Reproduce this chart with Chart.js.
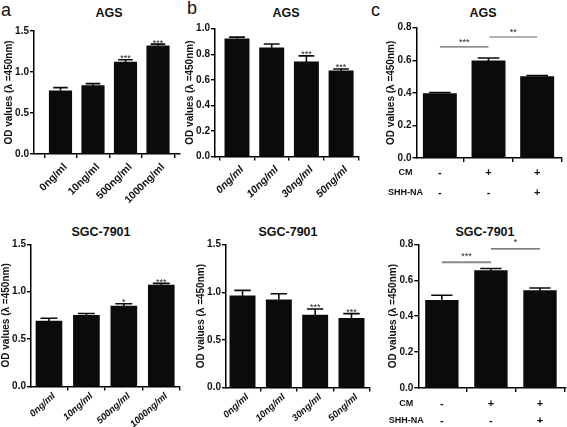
<!DOCTYPE html>
<html><head><meta charset="utf-8">
<script src="https://cdn.jsdelivr.net/npm/chart.js@4"></script>
<style>
html,body{margin:0;padding:0;background:#fff;}
body{width:567px;height:427px;position:relative;overflow:hidden;}
canvas{position:absolute;}
.lbl{position:absolute;transform:translate(-50%,-50%);white-space:nowrap;color:#111;
 font-family:"Liberation Sans Narrow","Arial Narrow",Arial,"Liberation Sans",sans-serif;font-weight:bold;}
.let{position:absolute;font-family:Arial,"Liberation Sans",sans-serif;font-size:18px;color:#111;line-height:1;}
</style></head><body>
<div class="let" style="left:1px;top:1px">a</div>
<div class="let" style="left:187px;top:-1px">b</div>
<div class="let" style="left:371px;top:1px">c</div>
<div class="lbl" style="left:109px;top:13px;font-size:12.5px">AGS</div>
<div class="lbl" style="left:286px;top:13px;font-size:12.5px">AGS</div>
<div class="lbl" style="left:483px;top:13px;font-size:12.5px">AGS</div>
<div class="lbl" style="left:101px;top:232px;font-size:12.5px">SGC-7901</div>
<div class="lbl" style="left:288px;top:232px;font-size:12.5px">SGC-7901</div>
<div class="lbl" style="left:485px;top:232px;font-size:12.5px">SGC-7901</div>
<canvas id="p1"></canvas><canvas id="p2"></canvas><canvas id="p3"></canvas>
<canvas id="p4"></canvas><canvas id="p5"></canvas><canvas id="p6"></canvas>
<script>
// ---------- data ----------
const yTitle = 'OD values (λ =450nm)';
const doseLabelsA = ['0ng/ml', '10ng/ml', '500ng/ml', '1000ng/ml'];
const doseLabelsB = ['0ng/ml', '10ng/ml', '30ng/ml', '50ng/ml'];
const rowNamesC = ['CM', 'SHH-NA'];
const cmSigns = ['-', '+', '+'];
const shhSigns = ['-', '-', '+'];

const agsA = [0.77, 0.833, 1.12, 1.32];
const agsAErr = [0.04, 0.025, 0.03, 0.02];
const agsASig = ['', '', '***', '***'];

const agsB = [0.921, 0.85, 0.74, 0.67];
const agsBErr = [0.013, 0.03, 0.047, 0.015];
const agsBSig = ['', '', '***', '***'];

const agsC = [0.396, 0.596, 0.5];
const agsCErr = [0.006, 0.018, 0.006];
const agsCBrackets = [
  {from: 0, to: 1, y: 0.682, label: '***'},
  {from: 1.02, to: 2, y: 0.743, label: '**'}
];

const sgcA = [0.69, 0.75, 0.848, 1.07];
const sgcAErr = [0.03, 0.02, 0.025, 0.018];
const sgcASig = ['', '', '*', '***'];

const sgcB = [0.964, 0.922, 0.762, 0.727];
const sgcBErr = [0.056, 0.063, 0.063, 0.049];
const sgcBSig = ['', '', '***', '***'];

const sgcC = [0.488, 0.653, 0.542];
const sgcCErr = [0.028, 0.012, 0.015];
const sgcCBrackets = [
  {from: 0, to: 1, y: 0.70, label: '***'},
  {from: 1, to: 2, y: 0.774, label: '*'}
];

// ---------- drawing ----------
const NARROW = '"Liberation Sans Narrow","Arial Narrow",Arial,"Liberation Sans",sans-serif';
const REG = 'Arial,"Liberation Sans",sans-serif';

const annot = {
  id: 'annot',
  afterDatasetsDraw(chart, args, o) {
    const ctx = chart.ctx, x = chart.scales.x, y = chart.scales.y;
    const bars = chart.getDatasetMeta(0).data;
    ctx.save();
    ctx.strokeStyle = '#0b0b0b'; ctx.lineWidth = 1.6;
    bars.forEach((b, i) => {
      const v = o.vals[i], e = o.errs[i];
      const y0 = y.getPixelForValue(v), y1 = y.getPixelForValue(v + e);
      const hw = b.width * 0.65 / 2;
      ctx.beginPath();
      ctx.moveTo(b.x, y0); ctx.lineTo(b.x, y1);
      ctx.moveTo(b.x - hw, y1); ctx.lineTo(b.x + hw, y1);
      ctx.stroke();
      if (o.sig && o.sig[i]) {
        ctx.fillStyle = '#222'; ctx.font = '9px ' + REG;
        ctx.textAlign = 'center'; ctx.textBaseline = 'alphabetic';
        ctx.fillText(o.sig[i], b.x, y1 + 1.5);
      }
    });
    (o.brackets || []).forEach((br, k) => {
      const xa = x.getPixelForValue(br.from), xb = x.getPixelForValue(br.to);
      const yy = y.getPixelForValue(br.y);
      ctx.strokeStyle = o.bracketColors[k]; ctx.lineWidth = o.bracketWidths[k];
      ctx.beginPath(); ctx.moveTo(xa, yy); ctx.lineTo(xb, yy); ctx.stroke();
      ctx.fillStyle = '#222'; ctx.font = '9px ' + REG;
      ctx.textAlign = 'center'; ctx.textBaseline = 'alphabetic';
      ctx.fillText(br.label, (xa + xb) / 2, yy + 1.5 - o.starLift);
    });
    ctx.restore();
  },
  afterDraw(chart, args, o) {
    if (!o.rows) return;
    const ctx = chart.ctx, x = chart.scales.x;
    const ca = chart.chartArea;
    ctx.save();
    ctx.fillStyle = '#111'; ctx.textAlign = 'center'; ctx.textBaseline = 'middle';
    o.rows.forEach((row, r) => {
      const yy = ca.bottom + o.rowOffsets[r];
      ctx.font = 'bold 9px ' + NARROW;
      ctx.fillText(rowNamesC[r], ca.left + o.rowNameDx, yy);
      ctx.font = 'bold 11px ' + REG;
      row.forEach((s, i) => ctx.fillText(s, x.getPixelForValue(i), yy));
    });
    ctx.restore();
  }
};

function makePanel(p) {
  const canvas = document.getElementById(p.id);
  const left = Math.max(0, Math.round(p.L - 60));
  const top = Math.round(p.T - 10);
  const width = Math.round(p.R + 8 - left);
  const height = p.bottomEdge - top;
  canvas.style.left = left + 'px'; canvas.style.top = top + 'px';
  canvas.width = width; canvas.height = height;
  canvas.style.width = width + 'px'; canvas.style.height = height + 'px';
  const padTop = p.T - top, padRight = left + width - p.R;
  const xH = height - (p.B - top), yW = p.L - left;
  const titleX = p.L - 25;
  const titlePad = Math.max(0, titleX - 6 - left);
  const rot = p.rot || 45;
  new Chart(canvas, {
    type: 'bar',
    data: {datasets: [{
      data: p.vals.map((v, i) => ({x: i, y: v})),
      backgroundColor: '#0b0b0b', borderWidth: 0, barThickness: p.bt
    }]},
    options: {
      responsive: false, animation: false, events: [],
      layout: {padding: {left: 0, top: padTop, right: padRight, bottom: 0}},
      plugins: {
        legend: {display: false}, tooltip: {enabled: false},
        annot: {vals: p.vals, errs: p.errs, sig: p.sig, brackets: p.brackets,
                bracketColors: p.bracketColors || [], bracketWidths: p.bracketWidths || [],
                starLift: p.starLift || 4,
                rows: p.rows, rowOffsets: p.rowOffsets, rowNameDx: p.rowNameDx}
      },
      scales: {
        x: {
          type: 'linear', min: p.xMin, max: p.xMax, offset: false,
          afterBuildTicks: s => { s.ticks = p.vals.map((_, i) => ({value: i})); },
          afterFit: s => { s.height = xH; },
          ticks: {
            autoSkip: false, minRotation: p.labels ? rot : 0, maxRotation: p.labels ? rot : 0,
            padding: p.tickPad == null ? 3 : p.tickPad, labelOffset: p.labels ? 5 : 0, color: '#111',
            font: {family: NARROW, size: p.labelSize || 10.5, weight: 'bold', style: p.italic ? 'italic' : 'normal'},
            callback: v => p.labels ? p.labels[Math.round(v)] : ''
          },
          grid: {display: true, drawOnChartArea: false, drawTicks: true, tickLength: 4, color: '#000', lineWidth: 1.4},
          border: {display: true, color: '#000', width: 1.5}
        },
        y: {
          min: 0, max: p.yMax,
          afterFit: s => { s.width = yW; },
          ticks: {stepSize: p.step, padding: 1, color: '#111',
                  font: {family: NARROW, size: 10, weight: 'bold'},
                  callback: v => Number(v).toFixed(1)},
          grid: {display: true, drawOnChartArea: false, drawTicks: true, tickLength: 4, color: '#000', lineWidth: 1.4},
          border: {display: true, color: '#000', width: 1.5},
          title: {display: true, text: yTitle, padding: {top: titlePad, bottom: 0}, color: '#111',
                  font: {family: NARROW, size: 10, weight: 'bold'}}
        }
      }
    },
    plugins: [annot]
  });
}

makePanel({id: 'p1', L: 34, R: 180, T: 31, B: 154, bottomEdge: 215,
  yMax: 1.5, step: 0.5, xMin: -0.815, xMax: 3.677, bt: 22.5,
  labels: doseLabelsA, italic: false, vals: agsA, errs: agsAErr, sig: agsASig});
makePanel({id: 'p2', L: 215, R: 359, T: 28.7, B: 156.5, bottomEdge: 215,
  yMax: 1.0, step: 0.2, xMin: -0.634, xMax: 3.516, bt: 24.3,
  labels: doseLabelsB, italic: true, vals: agsB, errs: agsBErr, sig: agsBSig});
makePanel({id: 'p3', L: 416.5, R: 561.5, T: 27.7, B: 158, bottomEdge: 215,
  yMax: 0.8, step: 0.2, xMin: -0.48, xMax: 2.5, bt: 33.3,
  labels: null, vals: agsC, errs: agsCErr, brackets: agsCBrackets,
  bracketColors: ['#666', '#666'], bracketWidths: [1.2, 1.2], starLift: 3,
  rows: [cmSigns, shhSigns], rowOffsets: [15, 35], rowNameDx: -11});
makePanel({id: 'p4', L: 31, R: 180, T: 244.3, B: 386.5, bottomEdge: 427,
  yMax: 1.5, step: 0.5, xMin: -0.48, xMax: 3.5, bt: 26,
  labels: doseLabelsA, italic: true, labelSize: 9.5, rot: 42, tickPad: 0,
  vals: sgcA, errs: sgcAErr, sig: sgcASig});
makePanel({id: 'p5', L: 226, R: 370, T: 244.7, B: 387.5, bottomEdge: 427,
  yMax: 1.5, step: 0.5, xMin: -0.455, xMax: 3.51, bt: 25.3,
  labels: doseLabelsB, italic: true, labelSize: 9.5, rot: 42, tickPad: 0,
  vals: sgcB, errs: sgcBErr, sig: sgcBSig});
makePanel({id: 'p6', L: 418.3, R: 566, T: 244.3, B: 388, bottomEdge: 427,
  yMax: 0.8, step: 0.2, xMin: -0.48, xMax: 2.53, bt: 32.7,
  labels: null, vals: sgcC, errs: sgcCErr, brackets: sgcCBrackets,
  bracketColors: ['#888', '#555'], bracketWidths: [2, 1.2], starLift: 5,
  rows: [cmSigns, shhSigns], rowOffsets: [16, 33], rowNameDx: -12});
</script>
</body></html>
